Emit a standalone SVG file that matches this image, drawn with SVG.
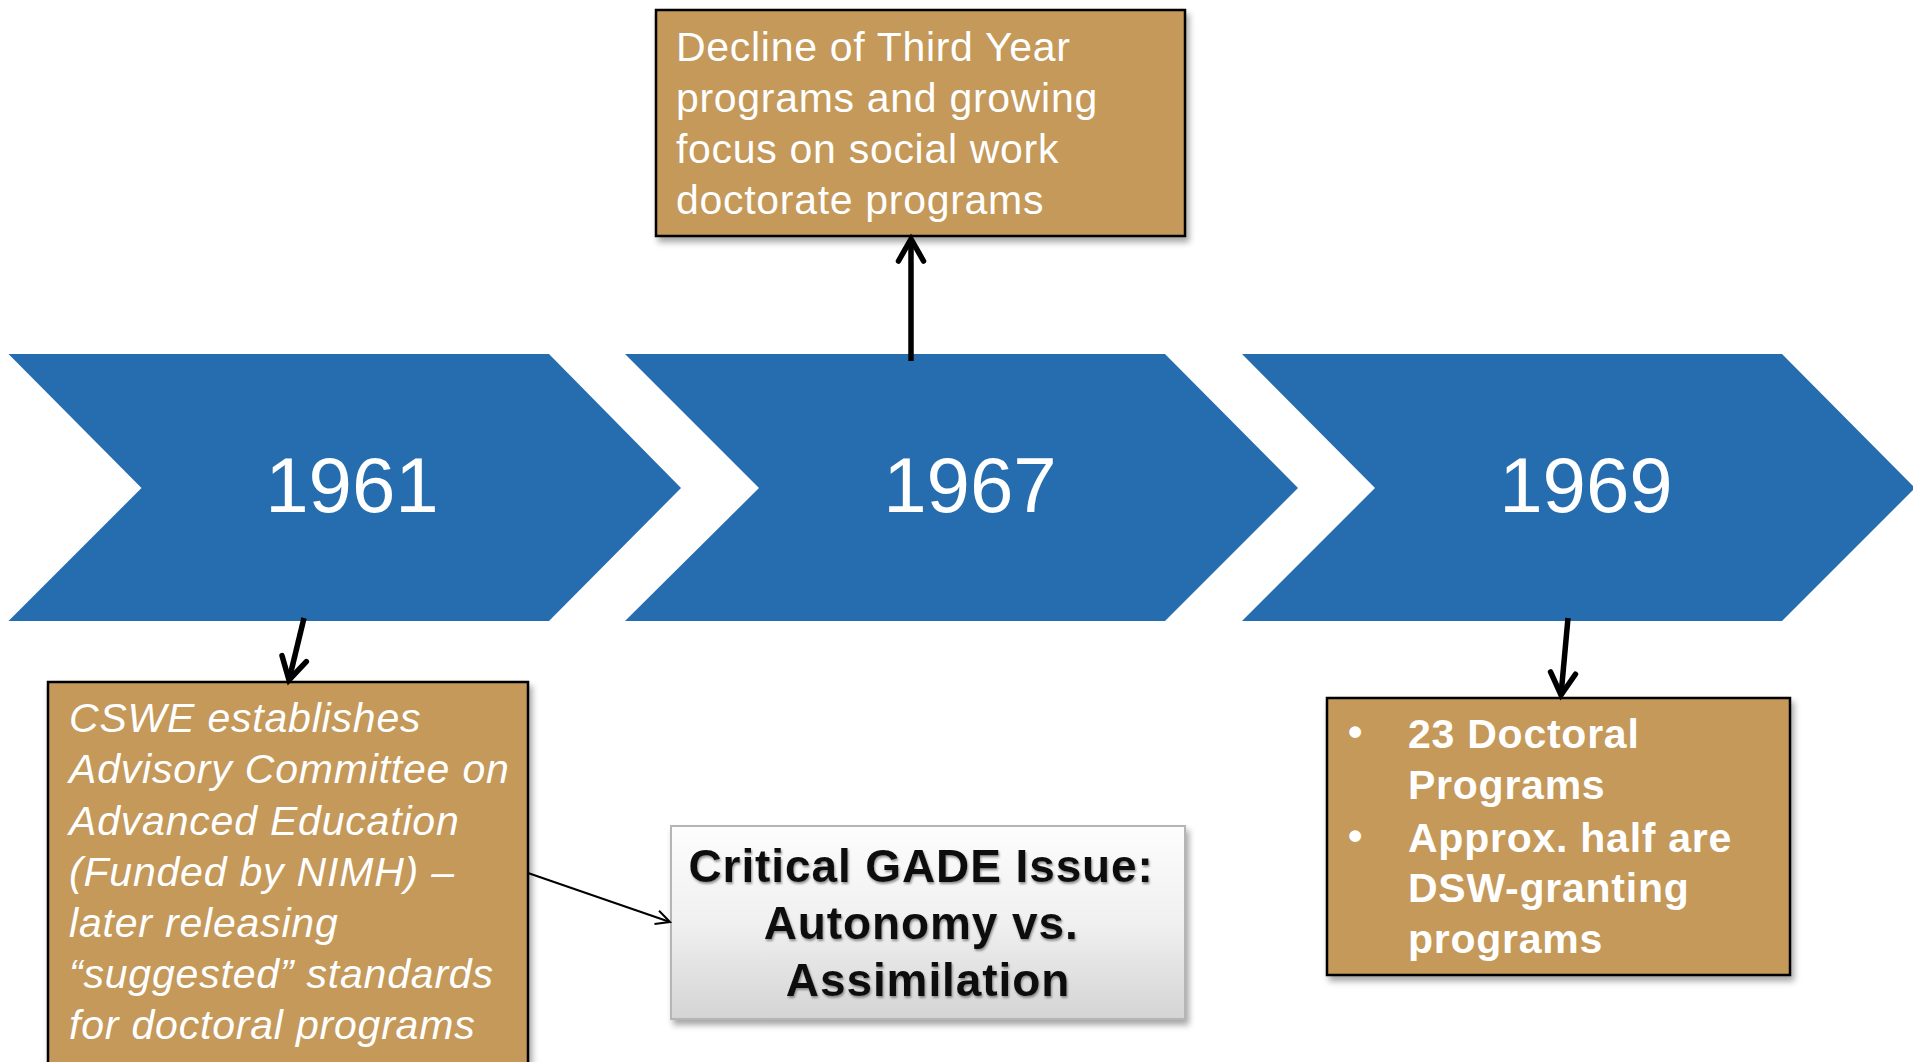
<svg xmlns="http://www.w3.org/2000/svg" width="1913" height="1062" viewBox="0 0 1913 1062">
<style>
.chev{fill:#256DAE}
.year{font-family:"Liberation Sans",Arial,sans-serif;font-size:78px;fill:#fff;text-anchor:middle}
.gold{fill:#C4995A;stroke:#000;stroke-width:2.5}
.wt{font-family:"Liberation Sans",Arial,sans-serif;font-size:41px;fill:#fff;letter-spacing:0.7px}
.it{font-style:italic;letter-spacing:0.8px}
.bd{font-weight:bold;letter-spacing:0.75px}
.crit{font-family:"Liberation Sans",Arial,sans-serif;font-size:46px;font-weight:bold;fill:#111;text-anchor:middle;letter-spacing:0.9px}
.thick{stroke:#000;stroke-width:5.5;fill:none}
.thin{stroke:#000;stroke-width:2;fill:none}
</style>
<defs>
<filter id="sh" x="-10%" y="-10%" width="130%" height="130%">
<feDropShadow dx="3" dy="5" stdDeviation="3" flood-color="#000" flood-opacity="0.35"/>
</filter>
<filter id="tsh" x="-10%" y="-20%" width="120%" height="150%">
<feDropShadow dx="1" dy="2" stdDeviation="1.2" flood-color="#666" flood-opacity="0.7"/>
</filter>
<linearGradient id="gr" x1="0" y1="0" x2="0" y2="1">
<stop offset="0" stop-color="#fdfdfd"/>
<stop offset="0.5" stop-color="#f0f0f0"/>
<stop offset="1" stop-color="#d4d4d4"/>
</linearGradient>
<marker id="ahT" markerUnits="userSpaceOnUse" viewBox="-30 -20 40 40" refX="0" refY="0" markerWidth="40" markerHeight="40" orient="auto">
<path d="M -22,-12.5 L 0,0 L -22,12.5" fill="none" stroke="#000" stroke-width="5.5" stroke-linecap="round" stroke-linejoin="miter"/>
</marker>
<marker id="aht" markerUnits="userSpaceOnUse" viewBox="-20 -12 26 24" refX="0" refY="0" markerWidth="26" markerHeight="24" orient="auto">
<path d="M -14,-7 L 0,0 L -14,7" fill="none" stroke="#000" stroke-width="2"/>
</marker>
</defs>

<g id="chevron-1961">
<polygon class="chev" points="8.5,354 549,354 681,488 549,621 8.5,621 141.5,488"/>
<text class="year" x="352" y="512">1961</text>
</g>
<g id="chevron-1967">
<polygon class="chev" points="625,354 1165,354 1298,488 1165,621 625,621 759,488"/>
<text class="year" x="970" y="512">1967</text>
</g>
<g id="chevron-1969">
<polygon class="chev" points="1242,354 1782,354 1915,488 1782,621 1242,621 1375,488"/>
<text class="year" x="1586" y="512">1969</text>
</g>

<g id="box-decline">
<rect class="gold" x="656" y="10" width="529" height="226" filter="url(#sh)"/>
<text class="wt" x="676">
<tspan x="676" y="61">Decline of Third Year</tspan>
<tspan x="676" y="112">programs and growing</tspan>
<tspan x="676" y="163">focus on social work</tspan>
<tspan x="676" y="214">doctorate programs</tspan>
</text>
</g>

<g id="box-cswe">
<rect class="gold" x="48" y="682" width="480" height="400" filter="url(#sh)"/>
<text class="wt it" x="69">
<tspan x="69" y="732">CSWE establishes</tspan>
<tspan x="69" y="783">Advisory Committee on</tspan>
<tspan x="69" y="835">Advanced Education</tspan>
<tspan x="69" y="886">(Funded by NIMH) –</tspan>
<tspan x="69" y="937">later releasing</tspan>
<tspan x="69" y="988">“suggested” standards</tspan>
<tspan x="69" y="1039">for doctoral programs</tspan>
</text>
</g>

<g id="box-critical">
<rect x="671" y="826" width="514" height="193" fill="url(#gr)" stroke="#b5b5b5" stroke-width="2" filter="url(#sh)"/>
<text class="crit" filter="url(#tsh)">
<tspan x="928" y="882">Critical GADE Issue:</tspan>
<tspan x="928" y="939">Autonomy vs.</tspan>
<tspan x="928" y="996">Assimilation</tspan>
</text>
</g>

<g id="box-1969">
<rect class="gold" x="1327" y="698" width="463" height="277" filter="url(#sh)"/>
<text class="wt bd">
<tspan x="1348" y="746">•</tspan>
<tspan x="1408" y="748">23 Doctoral</tspan>
<tspan x="1408" y="799">Programs</tspan>
<tspan x="1348" y="850">•</tspan>
<tspan x="1408" y="852">Approx. half are</tspan>
<tspan x="1408" y="902">DSW-granting</tspan>
<tspan x="1408" y="953">programs</tspan>
</text>
</g>

<g id="connectors">
<line class="thick" x1="911" y1="361" x2="911" y2="239" marker-end="url(#ahT)"/>
<line class="thick" x1="304" y1="618" x2="289" y2="680" marker-end="url(#ahT)"/>
<line class="thick" x1="1568" y1="618" x2="1561" y2="695" marker-end="url(#ahT)"/>
<line class="thin" x1="528" y1="873" x2="670" y2="922" marker-end="url(#aht)"/>
</g>
</svg>
